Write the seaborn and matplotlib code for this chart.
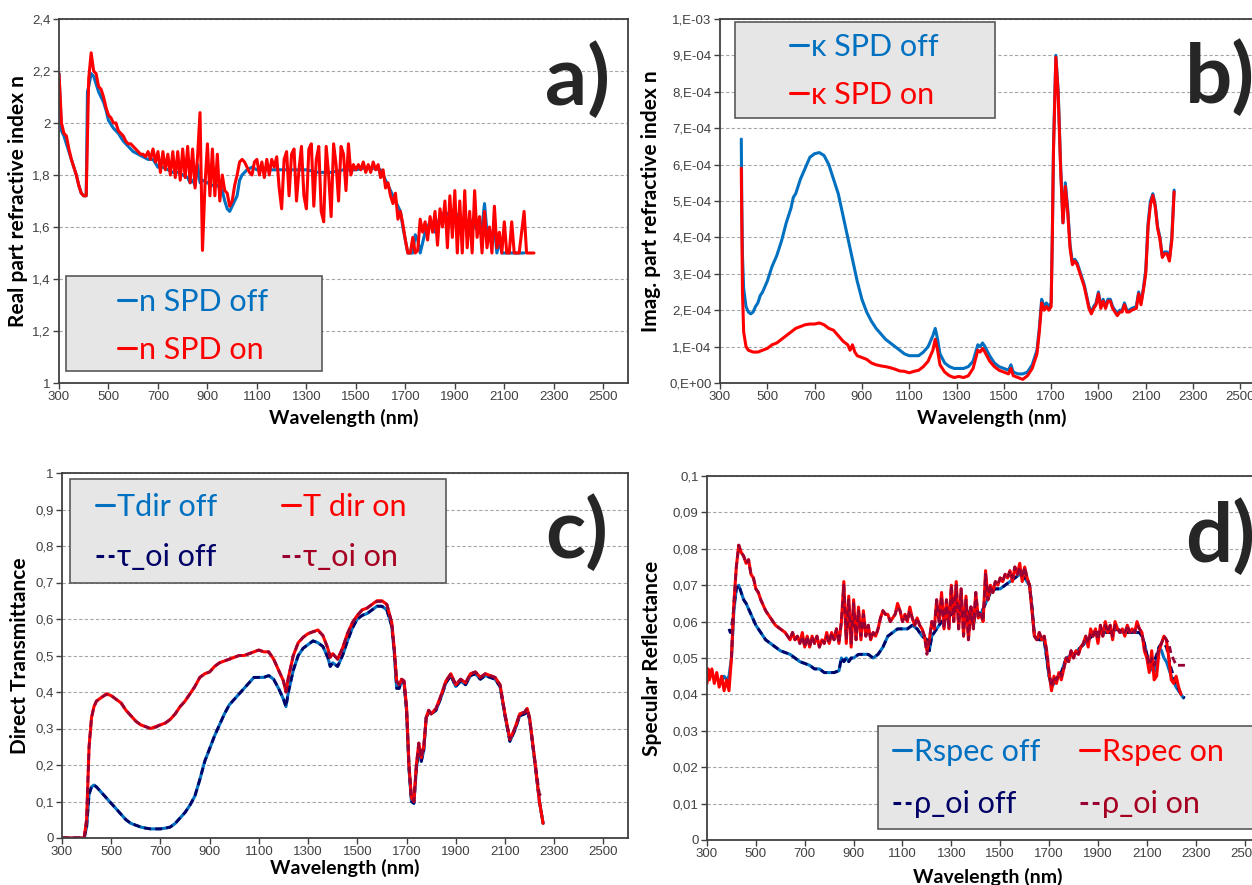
import numpy as np
import pandas as pd
import matplotlib
matplotlib.use("Agg")
import matplotlib.pyplot as plt
import seaborn as sns
from matplotlib.patches import Rectangle
from matplotlib.lines import Line2D
from matplotlib import font_manager

# ---------------- data ----------------
x_ticks = [300, 500, 700, 900, 1100, 1300, 1500, 1700, 1900, 2100, 2300, 2500]
x_tick_labels = [str(v) for v in x_ticks]

a_yticks = [1, 1.2, 1.4, 1.6, 1.8, 2.0, 2.2, 2.4]
a_ylabels = ["1", "1,2", "1,4", "1,6", "1,8", "2", "2,2", "2,4"]
b_yticks = [0, 1e-4, 2e-4, 3e-4, 4e-4, 5e-4, 6e-4, 7e-4, 8e-4, 9e-4, 1e-3]
b_ylabels = ["0,E+00", "1,E-04", "2,E-04", "3,E-04", "4,E-04", "5,E-04",
             "6,E-04", "7,E-04", "8,E-04", "9,E-04", "1,E-03"]
c_yticks = [0, 0.1, 0.2, 0.3, 0.4, 0.5, 0.6, 0.7, 0.8, 0.9, 1.0]
c_ylabels = ["0", "0,1", "0,2", "0,3", "0,4", "0,5", "0,6", "0,7", "0,8", "0,9", "1"]
d_yticks = [0, 0.01, 0.02, 0.03, 0.04, 0.05, 0.06, 0.07, 0.08, 0.09, 0.1]
d_ylabels = ["0", "0,01", "0,02", "0,03", "0,04", "0,05", "0,06", "0,07", "0,08", "0,09", "0,1"]

# panel a: real part n
wl_n_on = list(range(300, 2221, 10))
n_on = [2.19, 2.00, 1.96, 1.95, 1.90, 1.86, 1.83, 1.80, 1.76, 1.73,
        1.72, 1.72, 2.17, 2.27, 2.20, 2.19, 2.14, 2.13, 2.10, 2.06,
        2.03, 2.02, 2.00, 2.00, 1.97, 1.96, 1.95, 1.93, 1.92, 1.92,
        1.91, 1.90, 1.89, 1.88, 1.88, 1.87, 1.89, 1.86, 1.90, 1.85,
        1.89, 1.81, 1.89, 1.82, 1.88, 1.80, 1.89, 1.79, 1.89, 1.78,
        1.90, 1.79, 1.91, 1.77, 1.90, 1.75, 1.87, 2.04, 1.51, 1.76,
        1.92, 1.72, 1.90, 1.72, 1.88, 1.70, 1.80, 1.74, 1.73, 1.68,
        1.70, 1.76, 1.80, 1.85, 1.86, 1.85, 1.83, 1.81, 1.80, 1.85,
        1.86, 1.80, 1.85, 1.79, 1.86, 1.80, 1.86, 1.83, 1.87, 1.75,
        1.67, 1.86, 1.89, 1.72, 1.88, 1.90, 1.70, 1.82, 1.91, 1.72,
        1.67, 1.90, 1.92, 1.68, 1.86, 1.91, 1.66, 1.62, 1.91, 1.80,
        1.64, 1.92, 1.84, 1.70, 1.91, 1.88, 1.74, 1.92, 1.80, 1.84,
        1.82, 1.84, 1.82, 1.85, 1.81, 1.84, 1.81, 1.85, 1.82, 1.84,
        1.79, 1.82, 1.75, 1.77, 1.72, 1.69, 1.73, 1.63, 1.66, 1.61,
        1.55, 1.50, 1.50, 1.56, 1.50, 1.51, 1.63, 1.58, 1.62, 1.55,
        1.64, 1.58, 1.66, 1.53, 1.67, 1.60, 1.70, 1.52, 1.72, 1.56,
        1.74, 1.50, 1.70, 1.50, 1.74, 1.52, 1.66, 1.50, 1.74, 1.56,
        1.64, 1.50, 1.66, 1.52, 1.60, 1.50, 1.68, 1.52, 1.58, 1.50,
        1.62, 1.50, 1.50, 1.62, 1.50, 1.50, 1.50, 1.58, 1.66, 1.50,
        1.50, 1.50, 1.50]

n_off = [(300, 2.19), (310, 1.97), (320, 1.95), (330, 1.92), (340, 1.89), (350, 1.86),
         (360, 1.83), (370, 1.80), (380, 1.76), (390, 1.73), (400, 1.72), (410, 1.72),
         (415, 2.12), (420, 2.14), (430, 2.19), (440, 2.18), (450, 2.15), (460, 2.12),
         (470, 2.10), (480, 2.08), (490, 2.05), (500, 2.01), (520, 1.98), (540, 1.96),
         (560, 1.93), (580, 1.91), (600, 1.89), (620, 1.88), (640, 1.87), (660, 1.86),
         (680, 1.86), (700, 1.83), (720, 1.83), (740, 1.82), (760, 1.81), (780, 1.81),
         (800, 1.80), (820, 1.79), (830, 1.77), (840, 1.78), (850, 1.76), (860, 1.84),
         (870, 1.77), (880, 1.78), (900, 1.77), (920, 1.76), (940, 1.76), (960, 1.74),
         (970, 1.70), (980, 1.67), (990, 1.66), (1000, 1.68), (1010, 1.70), (1020, 1.72),
         (1030, 1.78), (1040, 1.80), (1060, 1.82), (1080, 1.83), (1100, 1.82), (1150, 1.82),
         (1200, 1.82), (1250, 1.82), (1300, 1.82), (1350, 1.81), (1400, 1.81), (1450, 1.82),
         (1500, 1.82), (1550, 1.83), (1600, 1.82), (1620, 1.78), (1640, 1.74), (1660, 1.70),
         (1680, 1.66), (1690, 1.60), (1700, 1.55), (1710, 1.50), (1730, 1.50), (1740, 1.57),
         (1750, 1.55), (1760, 1.50), (1780, 1.58), (1800, 1.62), (1820, 1.58), (1840, 1.64),
         (1860, 1.66), (1880, 1.64), (1900, 1.66), (1920, 1.63), (1940, 1.60), (1960, 1.63),
         (1980, 1.60), (2000, 1.58), (2010, 1.60), (2020, 1.69), (2030, 1.58), (2040, 1.55),
         (2050, 1.57), (2060, 1.60), (2070, 1.50), (2080, 1.55), (2090, 1.50), (2180, 1.50)]

# panel b: imaginary part kappa
k_off = [(390, 6.7e-4), (392, 5.0e-4), (395, 3.5e-4), (400, 2.6e-4), (410, 2.1e-4), (420, 1.95e-4),
         (430, 1.9e-4), (440, 1.95e-4), (450, 2.1e-4), (460, 2.2e-4), (470, 2.4e-4), (480, 2.5e-4),
         (500, 2.8e-4), (520, 3.2e-4), (540, 3.5e-4), (560, 3.9e-4), (580, 4.4e-4), (600, 4.8e-4),
         (610, 5.1e-4), (620, 5.2e-4), (640, 5.6e-4), (660, 5.9e-4), (680, 6.2e-4), (700, 6.3e-4),
         (720, 6.33e-4), (740, 6.25e-4), (760, 6.0e-4), (780, 5.6e-4), (800, 5.2e-4), (820, 4.6e-4),
         (840, 4.0e-4), (860, 3.4e-4), (880, 2.8e-4), (900, 2.3e-4), (920, 1.95e-4), (940, 1.7e-4),
         (960, 1.5e-4), (980, 1.35e-4), (1000, 1.2e-4), (1020, 1.1e-4), (1040, 1.0e-4), (1060, 0.9e-4),
         (1080, 0.8e-4), (1100, 0.75e-4), (1120, 0.75e-4), (1140, 0.75e-4), (1160, 0.85e-4),
         (1180, 1.0e-4), (1200, 1.3e-4), (1210, 1.5e-4), (1220, 1.2e-4), (1230, 0.8e-4),
         (1250, 0.55e-4), (1270, 0.45e-4), (1290, 0.4e-4), (1310, 0.4e-4), (1330, 0.4e-4),
         (1350, 0.45e-4), (1370, 0.6e-4), (1390, 1.05e-4), (1400, 1.0e-4), (1410, 1.1e-4),
         (1420, 1.0e-4), (1440, 0.75e-4), (1460, 0.55e-4), (1480, 0.45e-4), (1500, 0.4e-4),
         (1520, 0.35e-4), (1530, 0.5e-4), (1540, 0.3e-4), (1560, 0.25e-4), (1580, 0.25e-4),
         (1600, 0.3e-4), (1620, 0.5e-4), (1640, 0.9e-4), (1650, 1.5e-4), (1660, 2.3e-4),
         (1670, 2.1e-4), (1680, 2.2e-4), (1690, 2.1e-4), (1700, 2.2e-4), (1705, 4.0e-4),
         (1710, 6.5e-4), (1720, 9.0e-4), (1730, 8.0e-4), (1740, 6.0e-4), (1750, 4.4e-4),
         (1760, 5.5e-4), (1770, 4.8e-4), (1780, 3.8e-4), (1790, 3.3e-4), (1800, 3.4e-4),
         (1810, 3.3e-4), (1820, 3.1e-4), (1830, 2.9e-4), (1840, 2.7e-4), (1850, 2.4e-4),
         (1860, 2.1e-4), (1870, 1.95e-4), (1880, 2.1e-4), (1890, 2.2e-4), (1900, 2.5e-4),
         (1910, 2.1e-4), (1920, 2.3e-4), (1930, 2.1e-4), (1940, 2.3e-4), (1950, 2.3e-4),
         (1960, 2.1e-4), (1970, 2.0e-4), (1980, 1.9e-4), (1990, 2.0e-4), (2000, 2.0e-4),
         (2010, 2.2e-4), (2020, 2.0e-4), (2030, 2.0e-4), (2040, 2.05e-4), (2060, 2.1e-4),
         (2070, 2.5e-4), (2080, 2.2e-4), (2090, 2.6e-4), (2100, 3.1e-4), (2110, 4.4e-4),
         (2120, 5.0e-4), (2130, 5.2e-4), (2140, 4.9e-4), (2150, 4.3e-4), (2160, 4.0e-4),
         (2170, 3.5e-4), (2180, 3.6e-4), (2190, 3.6e-4), (2200, 3.4e-4), (2210, 4.0e-4),
         (2220, 5.3e-4)]

k_on = [(390, 5.9e-4), (395, 2.5e-4), (400, 1.4e-4), (410, 1.0e-4), (420, 0.9e-4), (440, 0.85e-4),
        (460, 0.85e-4), (480, 0.9e-4), (500, 0.95e-4), (520, 1.05e-4), (540, 1.1e-4), (560, 1.2e-4),
        (580, 1.3e-4), (600, 1.4e-4), (620, 1.5e-4), (640, 1.55e-4), (660, 1.6e-4), (680, 1.62e-4),
        (700, 1.62e-4), (720, 1.65e-4), (740, 1.6e-4), (760, 1.5e-4), (780, 1.45e-4), (800, 1.3e-4),
        (820, 1.15e-4), (840, 1.05e-4), (850, 0.9e-4), (860, 1.05e-4), (870, 0.85e-4), (880, 0.75e-4),
        (900, 0.7e-4), (920, 0.65e-4), (940, 0.55e-4), (960, 0.5e-4), (980, 0.47e-4), (1000, 0.45e-4),
        (1020, 0.42e-4), (1040, 0.38e-4), (1060, 0.33e-4), (1080, 0.32e-4), (1100, 0.28e-4),
        (1120, 0.32e-4), (1140, 0.35e-4), (1160, 0.45e-4), (1180, 0.6e-4), (1200, 0.9e-4),
        (1210, 1.2e-4), (1220, 0.9e-4), (1230, 0.5e-4), (1250, 0.3e-4), (1270, 0.2e-4),
        (1290, 0.15e-4), (1310, 0.18e-4), (1330, 0.15e-4), (1350, 0.2e-4), (1370, 0.4e-4),
        (1390, 0.9e-4), (1400, 0.85e-4), (1410, 0.95e-4), (1420, 0.85e-4), (1440, 0.6e-4),
        (1460, 0.45e-4), (1480, 0.35e-4), (1500, 0.3e-4), (1520, 0.25e-4), (1530, 0.4e-4),
        (1540, 0.2e-4), (1560, 0.15e-4), (1580, 0.1e-4), (1600, 0.2e-4), (1620, 0.4e-4),
        (1640, 0.8e-4), (1650, 1.4e-4), (1660, 2.2e-4), (1670, 2.0e-4), (1680, 2.1e-4),
        (1690, 2.0e-4), (1700, 2.1e-4), (1705, 4.0e-4), (1710, 6.4e-4), (1720, 8.95e-4),
        (1730, 7.9e-4), (1740, 5.9e-4), (1750, 4.4e-4), (1760, 5.4e-4), (1770, 4.7e-4),
        (1780, 3.7e-4), (1790, 3.25e-4), (1800, 3.35e-4), (1810, 3.25e-4), (1820, 3.05e-4),
        (1830, 2.85e-4), (1840, 2.65e-4), (1850, 2.35e-4), (1860, 2.05e-4), (1870, 1.9e-4),
        (1880, 2.05e-4), (1890, 2.15e-4), (1900, 2.45e-4), (1910, 2.05e-4), (1920, 2.25e-4),
        (1930, 2.05e-4), (1940, 2.25e-4), (1950, 2.25e-4), (1960, 2.05e-4), (1970, 1.95e-4),
        (1980, 1.85e-4), (1990, 1.95e-4), (2000, 1.95e-4), (2010, 2.15e-4), (2020, 1.95e-4),
        (2030, 1.95e-4), (2040, 2.0e-4), (2060, 2.05e-4), (2070, 2.45e-4), (2080, 2.15e-4),
        (2090, 2.55e-4), (2100, 3.0e-4), (2110, 4.3e-4), (2120, 4.9e-4), (2130, 5.15e-4),
        (2140, 4.85e-4), (2150, 4.25e-4), (2160, 3.95e-4), (2170, 3.45e-4), (2180, 3.55e-4),
        (2190, 3.55e-4), (2200, 3.35e-4), (2210, 3.9e-4), (2220, 5.25e-4)]

# panel c: direct transmittance
t_on = [(300, 0.0), (340, 0.0), (380, 0.0), (390, 0.0), (400, 0.05), (410, 0.25), (420, 0.33),
        (430, 0.36), (440, 0.375), (460, 0.385), (480, 0.395), (500, 0.39), (520, 0.38),
        (540, 0.37), (560, 0.35), (580, 0.335), (600, 0.32), (620, 0.31), (640, 0.305),
        (660, 0.30), (680, 0.305), (700, 0.31), (720, 0.315), (740, 0.325), (760, 0.34),
        (780, 0.36), (800, 0.375), (820, 0.395), (840, 0.415), (860, 0.44), (880, 0.45),
        (900, 0.455), (920, 0.47), (940, 0.48), (960, 0.485), (980, 0.49), (1000, 0.495),
        (1020, 0.50), (1040, 0.50), (1060, 0.505), (1080, 0.51), (1100, 0.515), (1120, 0.51),
        (1140, 0.51), (1160, 0.49), (1180, 0.46), (1200, 0.43), (1210, 0.40), (1220, 0.44),
        (1240, 0.50), (1260, 0.535), (1280, 0.55), (1300, 0.56), (1320, 0.565), (1340, 0.57),
        (1360, 0.555), (1380, 0.52), (1390, 0.495), (1400, 0.505), (1420, 0.49), (1440, 0.52),
        (1460, 0.56), (1480, 0.59), (1500, 0.61), (1520, 0.625), (1540, 0.63), (1560, 0.64),
        (1580, 0.65), (1600, 0.65), (1620, 0.64), (1640, 0.59), (1650, 0.52), (1660, 0.43),
        (1670, 0.42), (1680, 0.435), (1690, 0.43), (1700, 0.36), (1710, 0.20), (1720, 0.11),
        (1730, 0.10), (1740, 0.20), (1750, 0.26), (1760, 0.22), (1770, 0.25), (1780, 0.33),
        (1790, 0.35), (1800, 0.34), (1820, 0.355), (1840, 0.39), (1860, 0.43), (1880, 0.45),
        (1900, 0.42), (1920, 0.435), (1940, 0.425), (1960, 0.45), (1980, 0.455), (2000, 0.44),
        (2020, 0.45), (2040, 0.445), (2060, 0.44), (2080, 0.42), (2100, 0.34), (2120, 0.27),
        (2140, 0.30), (2160, 0.34), (2180, 0.345), (2190, 0.355), (2200, 0.33), (2220, 0.22),
        (2240, 0.10), (2255, 0.04)]

tau_on = [(300, 0.0), (340, 0.0), (380, 0.0), (390, 0.0), (400, 0.05), (410, 0.25), (420, 0.33),
          (430, 0.36), (440, 0.375), (460, 0.385), (480, 0.393), (500, 0.39), (520, 0.38),
          (540, 0.37), (560, 0.35), (580, 0.335), (600, 0.32), (620, 0.31), (640, 0.305),
          (660, 0.30), (680, 0.303), (700, 0.31), (720, 0.315), (740, 0.325), (760, 0.34),
          (780, 0.36), (800, 0.375), (820, 0.395), (840, 0.415), (860, 0.44), (880, 0.45),
          (900, 0.455), (920, 0.47), (940, 0.48), (960, 0.485), (980, 0.49), (1000, 0.495),
          (1020, 0.50), (1040, 0.50), (1060, 0.505), (1080, 0.51), (1100, 0.515), (1120, 0.51),
          (1140, 0.51), (1160, 0.49), (1180, 0.46), (1200, 0.43), (1210, 0.40), (1220, 0.44),
          (1240, 0.50), (1260, 0.535), (1280, 0.55), (1300, 0.56), (1320, 0.565), (1340, 0.568),
          (1360, 0.555), (1380, 0.52), (1390, 0.495), (1400, 0.505), (1420, 0.49), (1440, 0.52),
          (1460, 0.56), (1480, 0.59), (1500, 0.61), (1520, 0.625), (1540, 0.63), (1560, 0.64),
          (1580, 0.648), (1600, 0.648), (1620, 0.64), (1640, 0.59), (1650, 0.52), (1660, 0.43),
          (1670, 0.42), (1680, 0.435), (1690, 0.43), (1700, 0.36), (1710, 0.20), (1720, 0.11),
          (1730, 0.10), (1740, 0.20), (1750, 0.26), (1760, 0.22), (1770, 0.25), (1780, 0.33),
          (1790, 0.35), (1800, 0.34), (1820, 0.355), (1840, 0.39), (1860, 0.43), (1880, 0.45),
          (1900, 0.42), (1920, 0.435), (1940, 0.425), (1960, 0.45), (1980, 0.455), (2000, 0.44),
          (2020, 0.45), (2040, 0.445), (2060, 0.44), (2080, 0.42), (2100, 0.34), (2120, 0.27),
          (2140, 0.30), (2160, 0.34), (2180, 0.345), (2190, 0.355), (2200, 0.33), (2220, 0.22),
          (2240, 0.12), (2250, 0.115), (2262, 0.115)]

t_off = [(300, 0.0), (340, 0.0), (380, 0.0), (390, 0.0), (400, 0.03), (410, 0.12), (420, 0.14),
         (430, 0.145), (440, 0.14), (460, 0.125), (480, 0.11), (500, 0.095), (520, 0.08),
         (540, 0.065), (560, 0.05), (580, 0.04), (600, 0.035), (620, 0.03), (640, 0.027),
         (660, 0.025), (680, 0.025), (700, 0.025), (720, 0.027), (740, 0.03), (760, 0.04),
         (780, 0.055), (800, 0.07), (820, 0.09), (840, 0.115), (860, 0.16), (880, 0.21),
         (900, 0.245), (920, 0.28), (940, 0.31), (960, 0.34), (980, 0.365), (1000, 0.38),
         (1020, 0.395), (1040, 0.41), (1060, 0.425), (1080, 0.44), (1100, 0.44), (1120, 0.44),
         (1140, 0.445), (1160, 0.435), (1180, 0.41), (1200, 0.38), (1210, 0.36), (1220, 0.40),
         (1240, 0.46), (1260, 0.50), (1280, 0.52), (1300, 0.53), (1320, 0.54), (1340, 0.535),
         (1360, 0.525), (1380, 0.495), (1390, 0.47), (1400, 0.48), (1420, 0.47), (1440, 0.50),
         (1460, 0.54), (1480, 0.575), (1500, 0.60), (1520, 0.61), (1540, 0.615), (1560, 0.625),
         (1580, 0.635), (1600, 0.635), (1620, 0.625), (1640, 0.58), (1650, 0.51), (1660, 0.41),
         (1670, 0.41), (1680, 0.43), (1690, 0.425), (1700, 0.35), (1710, 0.19), (1720, 0.10),
         (1730, 0.095), (1740, 0.19), (1750, 0.24), (1760, 0.21), (1770, 0.24), (1780, 0.33),
         (1790, 0.345), (1800, 0.34), (1820, 0.35), (1840, 0.385), (1860, 0.425), (1880, 0.445),
         (1900, 0.415), (1920, 0.43), (1940, 0.42), (1960, 0.445), (1980, 0.45), (2000, 0.435),
         (2020, 0.445), (2040, 0.44), (2060, 0.435), (2080, 0.415), (2100, 0.335), (2120, 0.265),
         (2140, 0.295), (2160, 0.335), (2180, 0.34), (2190, 0.35), (2200, 0.325), (2220, 0.215),
         (2240, 0.10), (2255, 0.04)]

tau_off = t_off

# panel d: specular reflectance
r_on = [(300, 0.043), (305, 0.047), (310, 0.044), (320, 0.047), (330, 0.043), (340, 0.046),
        (350, 0.042), (360, 0.045), (370, 0.041), (380, 0.044), (390, 0.041), (400, 0.05),
        (410, 0.065), (420, 0.075), (430, 0.081), (440, 0.079), (450, 0.078), (460, 0.076),
        (470, 0.077), (480, 0.073), (490, 0.072), (500, 0.069), (510, 0.068), (520, 0.066),
        (540, 0.063), (560, 0.061), (580, 0.059), (600, 0.058), (620, 0.057), (640, 0.055),
        (650, 0.057), (660, 0.055), (670, 0.056), (680, 0.054), (690, 0.057), (700, 0.053),
        (710, 0.056), (720, 0.053), (730, 0.056), (740, 0.054), (750, 0.056), (760, 0.053),
        (770, 0.055), (780, 0.054), (790, 0.057), (800, 0.054), (810, 0.057), (820, 0.055),
        (830, 0.058), (840, 0.054), (850, 0.060), (860, 0.071), (870, 0.054), (880, 0.067),
        (890, 0.053), (900, 0.066), (910, 0.055), (920, 0.064), (930, 0.055), (940, 0.063),
        (950, 0.056), (960, 0.059), (970, 0.055), (980, 0.057), (990, 0.056), (1000, 0.058),
        (1010, 0.061), (1020, 0.063), (1030, 0.062), (1040, 0.062), (1050, 0.060), (1060, 0.061),
        (1070, 0.062), (1080, 0.065), (1090, 0.063), (1100, 0.060), (1110, 0.062), (1120, 0.060),
        (1130, 0.064), (1140, 0.061), (1150, 0.059), (1160, 0.061), (1170, 0.059), (1180, 0.058),
        (1190, 0.056), (1200, 0.052), (1210, 0.055), (1220, 0.060), (1230, 0.058), (1240, 0.066),
        (1250, 0.060), (1260, 0.068), (1270, 0.058), (1280, 0.066), (1290, 0.058), (1300, 0.070),
        (1310, 0.060), (1320, 0.071), (1330, 0.058), (1340, 0.069), (1350, 0.056), (1360, 0.067),
        (1370, 0.055), (1380, 0.064), (1390, 0.058), (1400, 0.068), (1410, 0.061), (1420, 0.062),
        (1430, 0.060), (1440, 0.074), (1450, 0.066), (1460, 0.070), (1470, 0.068), (1480, 0.071),
        (1490, 0.070), (1500, 0.072), (1510, 0.071), (1520, 0.073), (1530, 0.072), (1540, 0.074),
        (1550, 0.071), (1560, 0.075), (1570, 0.073), (1580, 0.076), (1590, 0.071), (1600, 0.075),
        (1610, 0.072), (1620, 0.070), (1630, 0.063), (1640, 0.056), (1650, 0.055), (1660, 0.057),
        (1670, 0.055), (1680, 0.056), (1690, 0.052), (1700, 0.046), (1710, 0.041), (1720, 0.045),
        (1730, 0.043), (1740, 0.046), (1750, 0.044), (1760, 0.047), (1770, 0.050), (1780, 0.049),
        (1790, 0.052), (1800, 0.050), (1810, 0.052), (1820, 0.051), (1830, 0.053), (1840, 0.054),
        (1850, 0.056), (1860, 0.053), (1870, 0.058), (1880, 0.056), (1890, 0.058), (1900, 0.054),
        (1910, 0.059), (1920, 0.056), (1930, 0.060), (1940, 0.057), (1950, 0.059), (1960, 0.055),
        (1970, 0.060), (1980, 0.058), (1990, 0.057), (2000, 0.058), (2010, 0.056), (2020, 0.059),
        (2030, 0.057), (2040, 0.058), (2050, 0.057), (2060, 0.060), (2070, 0.058), (2080, 0.057),
        (2090, 0.052), (2100, 0.050), (2110, 0.046), (2120, 0.052), (2130, 0.044), (2140, 0.045),
        (2150, 0.052), (2160, 0.054), (2170, 0.056), (2180, 0.055), (2190, 0.050), (2200, 0.044),
        (2210, 0.043), (2220, 0.045), (2230, 0.042), (2240, 0.040)]

rho_on = [(400, 0.05), (410, 0.065), (420, 0.075), (430, 0.081), (440, 0.079), (450, 0.078),
          (460, 0.076), (470, 0.077), (480, 0.073), (490, 0.072), (500, 0.069), (510, 0.068),
          (520, 0.066), (540, 0.063), (560, 0.061), (580, 0.059), (600, 0.058), (620, 0.057),
          (640, 0.055), (650, 0.057), (660, 0.055), (670, 0.056), (680, 0.054), (690, 0.056),
          (700, 0.053), (710, 0.056), (720, 0.053), (730, 0.056), (740, 0.054), (750, 0.056),
          (760, 0.053), (770, 0.055), (780, 0.054), (790, 0.056), (800, 0.054), (810, 0.057),
          (820, 0.055), (830, 0.058), (840, 0.054), (850, 0.060), (860, 0.070), (870, 0.055),
          (880, 0.066), (890, 0.054), (900, 0.065), (910, 0.055), (920, 0.063), (930, 0.056),
          (940, 0.062), (950, 0.056), (960, 0.059), (970, 0.055), (980, 0.057), (990, 0.056),
          (1000, 0.058), (1010, 0.061), (1020, 0.063), (1030, 0.062), (1040, 0.062), (1050, 0.060),
          (1060, 0.061), (1070, 0.062), (1080, 0.064), (1090, 0.063), (1100, 0.060), (1110, 0.062),
          (1120, 0.060), (1130, 0.063), (1140, 0.061), (1150, 0.059), (1160, 0.061), (1170, 0.059),
          (1180, 0.058), (1190, 0.056), (1200, 0.051), (1210, 0.055), (1220, 0.060), (1230, 0.058),
          (1240, 0.066), (1250, 0.060), (1260, 0.067), (1270, 0.058), (1280, 0.066), (1290, 0.058),
          (1300, 0.070), (1310, 0.060), (1320, 0.070), (1330, 0.058), (1340, 0.069), (1350, 0.056),
          (1360, 0.066), (1370, 0.055), (1380, 0.064), (1390, 0.058), (1400, 0.068), (1410, 0.061),
          (1420, 0.062), (1430, 0.060), (1440, 0.073), (1450, 0.066), (1460, 0.070), (1470, 0.068),
          (1480, 0.071), (1490, 0.070), (1500, 0.072), (1510, 0.071), (1520, 0.073), (1530, 0.072),
          (1540, 0.074), (1550, 0.072), (1560, 0.075), (1570, 0.073), (1580, 0.075), (1590, 0.072),
          (1600, 0.075), (1610, 0.072), (1620, 0.070), (1630, 0.063), (1640, 0.056), (1650, 0.055),
          (1660, 0.057), (1670, 0.055), (1680, 0.056), (1690, 0.052), (1700, 0.046), (1710, 0.042),
          (1720, 0.045), (1730, 0.044), (1740, 0.046), (1750, 0.045), (1760, 0.047), (1770, 0.050),
          (1780, 0.049), (1790, 0.052), (1800, 0.050), (1810, 0.052), (1820, 0.051), (1830, 0.053),
          (1840, 0.054), (1850, 0.056), (1860, 0.054), (1870, 0.057), (1880, 0.056), (1890, 0.058),
          (1900, 0.055), (1910, 0.059), (1920, 0.056), (1930, 0.059), (1940, 0.057), (1950, 0.059),
          (1960, 0.056), (1970, 0.059), (1980, 0.058), (1990, 0.057), (2000, 0.058), (2010, 0.057),
          (2020, 0.059), (2030, 0.057), (2040, 0.058), (2050, 0.057), (2060, 0.059), (2070, 0.058),
          (2080, 0.057), (2090, 0.053), (2100, 0.051), (2110, 0.048), (2120, 0.050), (2130, 0.048),
          (2140, 0.050), (2150, 0.053), (2160, 0.054), (2170, 0.056), (2180, 0.055), (2190, 0.054),
          (2200, 0.051), (2220, 0.048), (2240, 0.048), (2262, 0.048)]

r_off = [(360, 0.044), (370, 0.045), (380, 0.044), (390, 0.045), (400, 0.050), (410, 0.063),
         (420, 0.069), (430, 0.070), (440, 0.068), (450, 0.066), (460, 0.065), (480, 0.062),
         (500, 0.059), (520, 0.057), (540, 0.055), (560, 0.054), (580, 0.053), (600, 0.052),
         (620, 0.0515), (640, 0.051), (660, 0.050), (680, 0.049), (700, 0.0485), (720, 0.048),
         (740, 0.047), (760, 0.047), (780, 0.046), (800, 0.046), (820, 0.046), (840, 0.0465),
         (850, 0.050), (860, 0.049), (870, 0.050), (880, 0.049), (890, 0.050), (900, 0.050),
         (920, 0.051), (940, 0.051), (960, 0.051), (980, 0.050), (1000, 0.051), (1020, 0.053),
         (1040, 0.056), (1060, 0.057), (1080, 0.058), (1100, 0.058), (1120, 0.058), (1140, 0.059),
         (1160, 0.058), (1180, 0.056), (1200, 0.055), (1210, 0.052), (1220, 0.056), (1240, 0.058),
         (1260, 0.060), (1280, 0.061), (1300, 0.062), (1320, 0.063), (1340, 0.063), (1360, 0.064),
         (1370, 0.061), (1380, 0.064), (1390, 0.059), (1400, 0.063), (1420, 0.062), (1440, 0.065),
         (1460, 0.068), (1480, 0.069), (1500, 0.069), (1520, 0.070), (1540, 0.071), (1560, 0.072),
         (1580, 0.073), (1600, 0.072), (1620, 0.070), (1630, 0.064), (1640, 0.056), (1660, 0.055),
         (1680, 0.055), (1700, 0.045), (1710, 0.042), (1730, 0.044), (1750, 0.046), (1770, 0.050),
         (1800, 0.051), (1830, 0.053), (1860, 0.055), (1890, 0.057), (1920, 0.057), (1950, 0.057),
         (1980, 0.058), (2000, 0.057), (2040, 0.057), (2070, 0.057), (2080, 0.056), (2090, 0.054),
         (2100, 0.051), (2110, 0.048), (2120, 0.047), (2130, 0.046), (2140, 0.049), (2150, 0.053),
         (2160, 0.052), (2170, 0.050), (2180, 0.049), (2200, 0.045), (2220, 0.042), (2240, 0.040),
         (2250, 0.039)]

rho_off = [(390, 0.058), (395, 0.057), (400, 0.058), (410, 0.064), (420, 0.069), (430, 0.070),
           (440, 0.068), (450, 0.066), (460, 0.065), (480, 0.062), (500, 0.059), (520, 0.057),
           (540, 0.055), (560, 0.054), (580, 0.053), (600, 0.052), (620, 0.0515), (640, 0.051),
           (660, 0.050), (680, 0.049), (700, 0.0485), (720, 0.048), (740, 0.047), (760, 0.047),
           (780, 0.046), (800, 0.046), (820, 0.046), (840, 0.0465), (850, 0.050), (860, 0.049),
           (870, 0.050), (880, 0.049), (890, 0.050), (900, 0.050), (920, 0.051), (940, 0.051),
           (960, 0.051), (980, 0.050), (1000, 0.051), (1020, 0.053), (1040, 0.056), (1060, 0.057),
           (1080, 0.058), (1100, 0.058), (1120, 0.058), (1140, 0.059), (1160, 0.058), (1180, 0.056),
           (1200, 0.055), (1210, 0.052), (1220, 0.056), (1240, 0.058), (1260, 0.060), (1280, 0.061),
           (1300, 0.062), (1320, 0.063), (1340, 0.063), (1360, 0.064), (1370, 0.061), (1380, 0.064),
           (1390, 0.059), (1400, 0.063), (1420, 0.062), (1440, 0.065), (1460, 0.068), (1480, 0.069),
           (1500, 0.069), (1520, 0.070), (1540, 0.071), (1560, 0.072), (1580, 0.073), (1600, 0.072),
           (1620, 0.070), (1630, 0.064), (1640, 0.056), (1660, 0.055), (1680, 0.055), (1700, 0.045),
           (1710, 0.043), (1730, 0.044), (1750, 0.046), (1770, 0.050), (1800, 0.051), (1830, 0.053),
           (1860, 0.055), (1890, 0.057), (1920, 0.057), (1950, 0.057), (1980, 0.058), (2000, 0.057),
           (2040, 0.057), (2070, 0.057), (2080, 0.056), (2090, 0.054), (2100, 0.051), (2110, 0.049),
           (2120, 0.048), (2130, 0.049), (2140, 0.051), (2150, 0.053), (2160, 0.054), (2170, 0.054),
           (2180, 0.053), (2200, 0.047), (2220, 0.043), (2240, 0.040), (2255, 0.039)]

# ---------------- style ----------------
sns.set_theme(style="white")
plt.rcParams["font.family"] = ["Lato", "DejaVu Sans"]
available = {f.name for f in font_manager.fontManager.ttflist}
TICKFONT = ["Liberation Sans Narrow", "Liberation Sans"] if "Liberation Sans Narrow" in available else ["Liberation Sans"]

BLUE = "#0070C0"
RED = "#FF0000"
NAVY = "#000066"
DRED = "#990033"
DASH = (0, (2.5, 1.5))
LEG_FS = 22

W, H = 1252, 885
fig = plt.figure(figsize=(W / 100, H / 100), dpi=100)


def add_axes(l, t, r, b):
    return fig.add_axes([l / W, 1 - b / H, (r - l) / W, (b - t) / H])


def fx(px):
    return px / W


def fy(py):
    return 1 - py / H


def setup(ax, ylim, yticks, ylabels, ylabel, ylab_x, xlab_y):
    ax.set_xlim(300, 2600)
    ax.set_ylim(*ylim)
    ax.set_xticks(x_ticks)
    ax.set_xticklabels(x_tick_labels, fontfamily=TICKFONT, fontsize=9.5, color="#404040")
    ax.set_yticks(yticks)
    ax.set_yticklabels(ylabels, fontfamily=TICKFONT, fontsize=9.5, color="#404040")
    ax.grid(False)
    ax.yaxis.grid(True, linestyle=(0, (3, 2)), color="#A6A6A6", linewidth=0.8)
    ax.set_axisbelow(True)
    for s in ax.spines.values():
        s.set_color("#404040")
        s.set_linewidth(1.3)
    ax.tick_params(axis="both", which="major", direction="out", length=4, width=1,
                   color="#404040", bottom=True, left=True, pad=2)
    ax.set_xlabel("Wavelength (nm)", fontsize=14, fontweight="bold", color="black",
                  va="center")
    ax.set_ylabel(ylabel, fontsize=15, fontweight="bold", color="black", va="center")
    pos = ax.get_position()
    ax.xaxis.set_label_coords((pos.x0 + pos.x1) / 2, fy(xlab_y), transform=fig.transFigure)
    ax.yaxis.set_label_coords(fx(ylab_x), (pos.y0 + pos.y1) / 2, transform=fig.transFigure)


def draw(ax, xs, ys, color, lw=2.2, ls="-"):
    df = pd.DataFrame({"wl": xs, "v": ys})
    sns.lineplot(data=df, x="wl", y="v", ax=ax, color=color, linewidth=lw,
                 linestyle=ls, sort=False, estimator=None)


def draw_pairs(ax, pairs, color, lw=2.2, ls="-"):
    xs, ys = zip(*pairs)
    draw(ax, list(xs), list(ys), color, lw, ls)


def legend_box(ax, l, t, r, b, handles, labels, colors, anchor, ncol=1, colspace=1.0,
               labelspacing=0.65):
    rect = Rectangle((fx(l), fy(b)), fx(r) - fx(l), fy(t) - fy(b), transform=fig.transFigure,
                     facecolor="#E6E6E6", edgecolor="#595959", linewidth=1.2, zorder=5,
                     clip_on=False)
    ax.add_patch(rect)
    leg = ax.legend(handles, labels, loc="center left", bbox_to_anchor=(fx(anchor[0]), fy(anchor[1])),
                    bbox_transform=fig.transFigure, frameon=False, ncol=ncol,
                    fontsize=LEG_FS, handlelength=0.6, handletextpad=0.1, borderpad=0,
                    borderaxespad=0, labelspacing=labelspacing, columnspacing=colspace,
                    labelcolor=colors)
    leg.set_zorder(6)
    return leg


# ---------------- panel a ----------------
ax_a = add_axes(59, 19, 628, 383)
draw_pairs(ax_a, n_off, BLUE)
draw(ax_a, wl_n_on, n_on, RED)
setup(ax_a, (1, 2.4), a_yticks, a_ylabels, "Real part refractive index n", 18, 418)
legend_box(ax_a, 66, 276, 322, 371,
           [Line2D([], [], color=BLUE, lw=2.2), Line2D([], [], color=RED, lw=2.2)],
           ["n SPD off", "n SPD on"], [BLUE, RED], (118, 326), labelspacing=0.65)
fig.text(fx(578), fy(80), "a)", fontsize=60, fontweight="bold", ha="center", va="center")

# ---------------- panel b ----------------
ax_b = add_axes(720, 19, 1264, 383)
draw_pairs(ax_b, k_off, BLUE)
draw_pairs(ax_b, k_on, RED)
setup(ax_b, (0, 1e-3), b_yticks, b_ylabels, "Imag. part refractive index n", 651, 418)
legend_box(ax_b, 735, 22, 995, 118,
           [Line2D([], [], color=BLUE, lw=2.2), Line2D([], [], color=RED, lw=2.2)],
           ["\u03ba SPD off", "\u03ba SPD on"], [BLUE, RED], (790, 71), labelspacing=0.65)
fig.text(fx(1220), fy(78), "b)", fontsize=60, fontweight="bold", ha="center", va="center")

# ---------------- panel c ----------------
ax_c = add_axes(62, 473, 628, 838)
draw_pairs(ax_c, t_off, BLUE)
draw_pairs(ax_c, tau_off, NAVY, lw=2.0, ls=DASH)
draw_pairs(ax_c, t_on, RED)
draw_pairs(ax_c, tau_on, DRED, lw=2.0, ls=DASH)
setup(ax_c, (0, 1), c_yticks, c_ylabels, "Direct Transmittance", 20, 868)
legend_box(ax_c, 70, 479, 446, 583,
           [Line2D([], [], color=BLUE, lw=2.2), Line2D([], [], color=NAVY, lw=2.2, ls=DASH),
            Line2D([], [], color=RED, lw=2.2), Line2D([], [], color=DRED, lw=2.2, ls=DASH)],
           ["Tdir off", "\u03c4_oi off", "T dir on", "\u03c4_oi on"],
           [BLUE, NAVY, RED, "#A50021"], (96, 532), ncol=2, colspace=2.1, labelspacing=0.75)
fig.text(fx(577), fy(533), "c)", fontsize=60, fontweight="bold", ha="center", va="center")

# ---------------- panel d ----------------
ax_d = add_axes(707, 476, 1269, 840)
draw_pairs(ax_d, r_off, BLUE)
draw_pairs(ax_d, rho_off, NAVY, lw=2.0, ls=DASH)
draw_pairs(ax_d, r_on, RED)
draw_pairs(ax_d, rho_on, DRED, lw=2.0, ls=DASH)
setup(ax_d, (0, 0.1), d_yticks, d_ylabels, "Specular Reflectance", 652, 877)
legend_box(ax_d, 878, 726, 1262, 829,
           [Line2D([], [], color=BLUE, lw=2.2), Line2D([], [], color=NAVY, lw=2.2, ls=DASH),
            Line2D([], [], color=RED, lw=2.2), Line2D([], [], color=DRED, lw=2.2, ls=DASH)],
           ["Rspec off", "\u03c1_oi off", "Rspec on", "\u03c1_oi on"],
           [BLUE, NAVY, RED, "#A50021"], (893, 778), ncol=2, colspace=1.3, labelspacing=0.8)
fig.text(fx(1220), fy(537), "d)", fontsize=60, fontweight="bold", ha="center", va="center")

fig.savefig("out.png", dpi=100, facecolor="white")
